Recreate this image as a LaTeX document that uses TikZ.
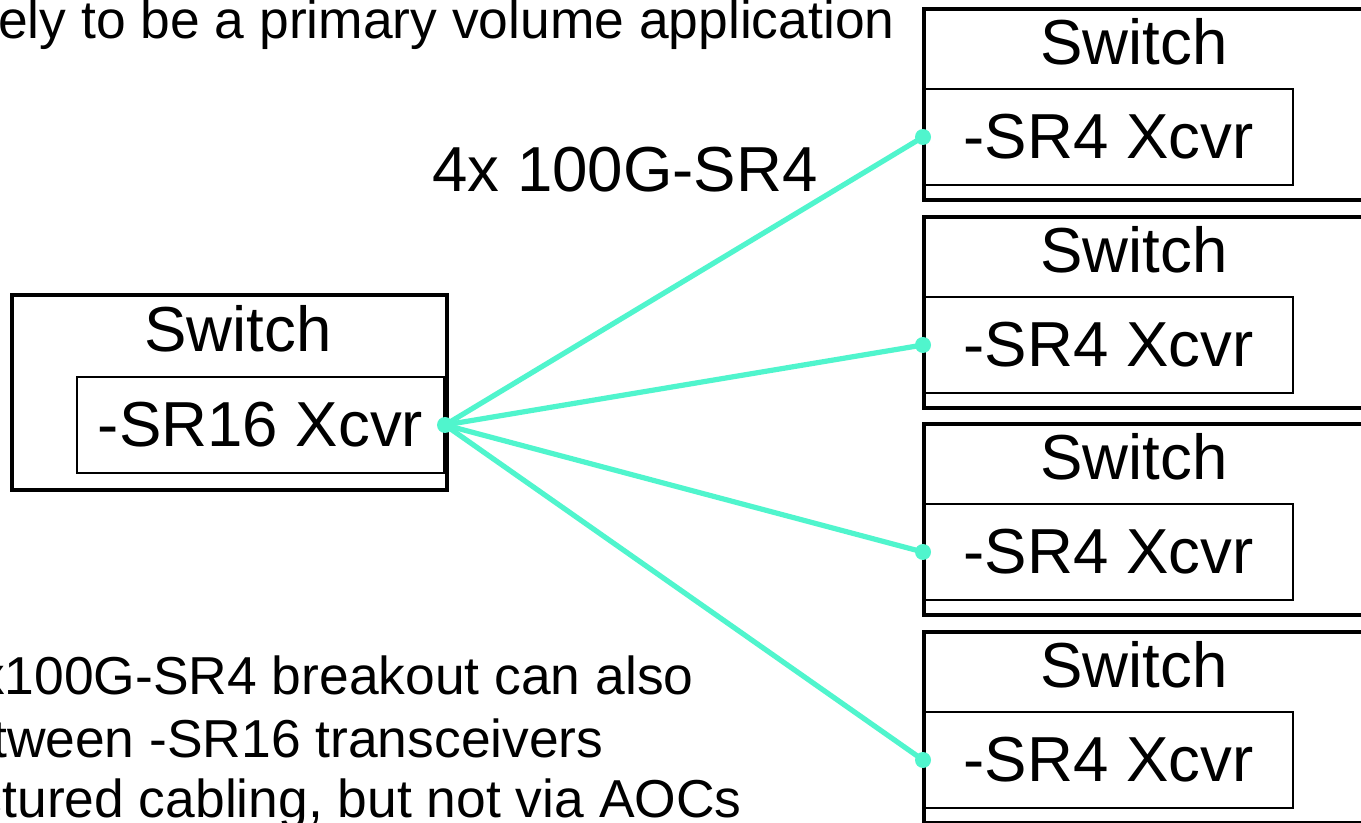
\documentclass[tikz,border=0pt]{standalone}
\usepackage{fontspec}
\setmainfont{Liberation Sans}
\definecolor{aqua}{RGB}{80,245,205}
\begin{document}
\begin{tikzpicture}[x=0.5pt,y=-0.5pt,
  outerbox/.style={draw=black,line width=2.3pt,minimum width=#1,minimum height=95.5pt,inner sep=0pt},
  innerbox/.style={draw=black,line width=1pt,minimum width=#1,minimum height=48pt,inner sep=0pt,font=\fontsize{31.8}{36}\selectfont},
  boxlabel/.style={anchor=base,inner sep=0pt,font=\fontsize{31.8}{36}\selectfont},
  note/.style={inner sep=0pt,font=\fontsize{26.7}{31}\selectfont},
  link/.style={draw=aqua,line width=2.6pt},
  dot/.style={fill=aqua,draw=none,circle,minimum size=8pt,inner sep=0pt}]
\clip (0,0) rectangle (1361,823);
\fill[white] (0,0) rectangle (1361,823);
% top and bottom notes
\node[note,anchor=base east] (top) at (895,39) {ely to be a primary volume application};
\node[note,anchor=base east] (b1) at (694,694) {x100G-SR4 breakout can also};
\node[note,anchor=base east] (b2) at (604,757) {tween -SR16 transceivers};
\node[note,anchor=base east] (b3) at (742,817) {ctured cabling, but not via AOCs};
% left switch
\node[draw=black,line width=2.3pt,minimum width=217.5pt,minimum height=97.5pt,inner sep=0pt] (lsw) at (229.5,392.5) {};
\node[boxlabel] (lswt) at (238,352) {Switch};
\node[innerbox=183.5pt] (lx) at (260.5,425) {-SR16 Xcvr};
% right switches
\foreach \i/\t in {1/9,2/217,3/424,4/632}{
  \node[outerbox=238pt] (rsw\i) at (1162,\t+95.5) {};
  \node[boxlabel] (rswt\i) at (1134,\t+56) {Switch};
  \node[innerbox=184.5pt] (rx\i) at (1108.5,\t+128) {-SR4 Xcvr};
}
% label
\node[boxlabel] (lab) at (625,192) {4x 100G-SR4};
% links
\foreach \i in {1,2,3,4}{
  \draw[link] (lx.east) -- (rx\i.west);
  \node[dot] (d\i) at (rx\i.west) {};
}
\node[dot] (d0) at (lx.east) {};
\end{tikzpicture}
\end{document}
